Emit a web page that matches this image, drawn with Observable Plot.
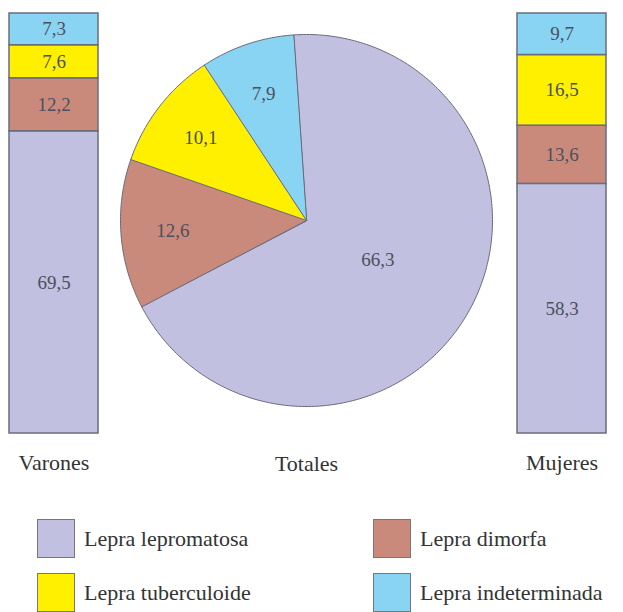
<!DOCTYPE html>
<html>
<head>
<meta charset="utf-8">
<script src="https://cdn.jsdelivr.net/npm/d3@7"></script>
<script src="https://cdn.jsdelivr.net/npm/@observablehq/plot@0.6"></script>
<style>
  body { margin: 0; background: #fff; font-family: "Liberation Serif", "Times New Roman", Times, "DejaVu Serif", serif; }
  #wrap { width: 623px; position: relative; }
  #row { display: flex; flex-direction: row; }
  #legend { display: grid; grid-template-columns: 336px 287px; row-gap: 15px; margin-top: 39px; }
  .item { display: flex; align-items: center; font-size: 22px; color: #333; white-space: nowrap; }
  .sw { width: 36px; height: 37px; border: 1.5px solid #777; box-sizing: content-box; margin-right: 9px; flex: none; }
  .col0 { padding-left: 37px; }
  .col1 { padding-left: 37px; }
</style>
</head>
<body>
<div id="wrap">
  <div id="row"></div>
  <div id="legend"></div>
</div>
<script>
// ---- data ----
const types = ["Lepra lepromatosa", "Lepra dimorfa", "Lepra tuberculoide", "Lepra indeterminada"];
const colors = ["#c1c0e0", "#c98a7c", "#fff000", "#88d4f2"];
const varonesValues = [69.5, 12.2, 7.6, 7.3];
const totalesValues = [66.3, 12.6, 10.1, 7.9];
const mujeresValues = [58.3, 13.6, 16.5, 9.7];
const groupLabels = ["Varones", "Totales", "Mujeres"];
const legendOrder = ["Lepra lepromatosa", "Lepra dimorfa", "Lepra tuberculoide", "Lepra indeterminada"];

const fmt = v => v.toFixed(1).replace(".", ",");
const colorScale = {domain: types, range: colors};
const edge = "#6a6c7c";
const textFill = "#4d4f5c";
const fontStack = "'Liberation Serif', 'Times New Roman', Times, 'DejaVu Serif', serif";
const font = {fontFamily: fontStack, background: "transparent"};

function barPlot(label, values, width, ml, mr) {
  const data = types.map((t, i) => ({group: label, type: t, value: values[i]}));
  return Plot.plot({
    width, height: 480,
    marginLeft: ml, marginRight: mr, marginTop: 13, marginBottom: 47,
    style: font,
    x: {padding: 0, label: null},
    y: {domain: [0, 1], axis: null},
    color: colorScale,
    marks: [
      Plot.barY(data, Plot.stackY({offset: "normalize"}, {x: "group", y: "value", fill: "type", stroke: edge, strokeWidth: 1.5, inset: 0})),
      Plot.text(data, Plot.stackY({offset: "normalize"}, {x: "group", y: "value", text: d => fmt(d.value), fontSize: 19, fill: textFill})),
      Plot.axisX({tickSize: 0, tickPadding: 21, fontSize: 22, label: null, fill: "#333"})
    ]
  });
}

function piePlot(label, values) {
  const data = types.map((t, i) => ({type: t, value: values[i]}));
  const a0 = -4 * Math.PI / 180;
  const arcs = d3.pie().sort(null).value(d => d.value).startAngle(a0).endAngle(a0 + 2 * Math.PI)(data);
  const pts = [];
  const labels = [];
  for (const a of arcs) {
    const t = a.data.type;
    pts.push({type: t, x: 0, y: 0});
    const n = Math.max(2, Math.ceil((a.endAngle - a.startAngle) / (Math.PI / 180)));
    for (let k = 0; k <= n; k++) {
      const ang = a.startAngle + (a.endAngle - a.startAngle) * k / n;
      pts.push({type: t, x: Math.sin(ang), y: Math.cos(ang)});
    }
    const mid = (a.startAngle + a.endAngle) / 2;
    const frac = (a.endAngle - a.startAngle) / (2 * Math.PI);
    const rr = frac > 0.5 ? 0.44 : 0.72;
    labels.push({x: rr * Math.sin(mid), y: rr * Math.cos(mid), text: fmt(a.data.value)});
  }
  return Plot.plot({
    width: 400, height: 480,
    marginLeft: 10, marginRight: 18, marginTop: 34, marginBottom: 74,
    style: font,
    x: {domain: [-1, 1], axis: null},
    y: {domain: [-1, 1], axis: null},
    color: colorScale,
    marks: [
      Plot.line(pts, {x: "x", y: "y", z: "type", fill: "type", stroke: edge, strokeWidth: 1, curve: "linear-closed"}),
      Plot.text(labels, {x: "x", y: "y", text: "text", fontSize: 19, fill: textFill}),
      Plot.text([label], {frameAnchor: "bottom", dy: 64, text: d => d, fontSize: 22, fill: "#333"})
    ]
  });
}

const row = document.getElementById("row");
row.appendChild(barPlot(groupLabels[0], varonesValues, 110, 9, 12));
row.appendChild(piePlot(groupLabels[1], totalesValues));
row.appendChild(barPlot(groupLabels[2], mujeresValues, 113, 7, 17));

const legend = document.getElementById("legend");
legendOrder.forEach((t, i) => {
  const div = document.createElement("div");
  div.className = "item col" + (i % 2);
  const sw = document.createElement("div");
  sw.className = "sw";
  sw.style.background = colors[types.indexOf(t)];
  const sp = document.createElement("span");
  sp.textContent = t;
  div.appendChild(sw);
  div.appendChild(sp);
  legend.appendChild(div);
});
</script>
</body>
</html>
